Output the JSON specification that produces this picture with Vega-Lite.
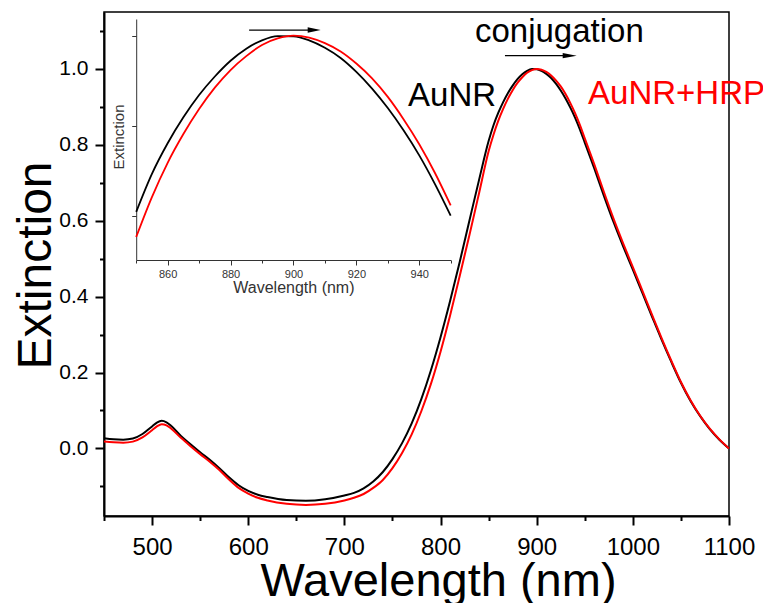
{
  "$schema": "https://vega.github.io/schema/vega-lite/v6.json",
  "width": 625,
  "height": 504,
  "autosize": "none",
  "padding": {"left": 104, "top": 12, "right": 34, "bottom": 87},
  "background": "white",
  "config": {
    "font": "Liberation Sans",
    "view": {"stroke": "#000000", "strokeWidth": 1.5}
  },
  "datasets": {
    "spectra": [
      {"wl": 450, "AuNR": 0.027, "AuNR+HRP": 0.018},
      {"wl": 460, "AuNR": 0.024, "AuNR+HRP": 0.016},
      {"wl": 470, "AuNR": 0.023, "AuNR+HRP": 0.015},
      {"wl": 480, "AuNR": 0.026, "AuNR+HRP": 0.018},
      {"wl": 490, "AuNR": 0.038, "AuNR+HRP": 0.029},
      {"wl": 500, "AuNR": 0.058, "AuNR+HRP": 0.048},
      {"wl": 505, "AuNR": 0.068, "AuNR+HRP": 0.058},
      {"wl": 510, "AuNR": 0.073, "AuNR+HRP": 0.064},
      {"wl": 515, "AuNR": 0.069, "AuNR+HRP": 0.061},
      {"wl": 520, "AuNR": 0.059, "AuNR+HRP": 0.052},
      {"wl": 530, "AuNR": 0.033, "AuNR+HRP": 0.028},
      {"wl": 540, "AuNR": 0.011, "AuNR+HRP": 0.006},
      {"wl": 550, "AuNR": -0.010, "AuNR+HRP": -0.015},
      {"wl": 560, "AuNR": -0.030, "AuNR+HRP": -0.035},
      {"wl": 570, "AuNR": -0.052, "AuNR+HRP": -0.057},
      {"wl": 580, "AuNR": -0.076, "AuNR+HRP": -0.082},
      {"wl": 590, "AuNR": -0.097, "AuNR+HRP": -0.104},
      {"wl": 600, "AuNR": -0.112, "AuNR+HRP": -0.119},
      {"wl": 610, "AuNR": -0.122, "AuNR+HRP": -0.130},
      {"wl": 620, "AuNR": -0.128, "AuNR+HRP": -0.137},
      {"wl": 640, "AuNR": -0.136, "AuNR+HRP": -0.146},
      {"wl": 660, "AuNR": -0.138, "AuNR+HRP": -0.149},
      {"wl": 680, "AuNR": -0.134, "AuNR+HRP": -0.146},
      {"wl": 700, "AuNR": -0.124, "AuNR+HRP": -0.137},
      {"wl": 710, "AuNR": -0.117, "AuNR+HRP": -0.130},
      {"wl": 720, "AuNR": -0.105, "AuNR+HRP": -0.120},
      {"wl": 730, "AuNR": -0.087, "AuNR+HRP": -0.104},
      {"wl": 740, "AuNR": -0.062, "AuNR+HRP": -0.083},
      {"wl": 750, "AuNR": -0.028, "AuNR+HRP": -0.052},
      {"wl": 760, "AuNR": 0.014, "AuNR+HRP": -0.012},
      {"wl": 770, "AuNR": 0.066, "AuNR+HRP": 0.037},
      {"wl": 780, "AuNR": 0.130, "AuNR+HRP": 0.098},
      {"wl": 790, "AuNR": 0.206, "AuNR+HRP": 0.170},
      {"wl": 800, "AuNR": 0.293, "AuNR+HRP": 0.255},
      {"wl": 810, "AuNR": 0.389, "AuNR+HRP": 0.351},
      {"wl": 820, "AuNR": 0.492, "AuNR+HRP": 0.455},
      {"wl": 830, "AuNR": 0.600, "AuNR+HRP": 0.562},
      {"wl": 840, "AuNR": 0.707, "AuNR+HRP": 0.672},
      {"wl": 850, "AuNR": 0.810, "AuNR+HRP": 0.783},
      {"wl": 855, "AuNR": 0.851, "AuNR+HRP": 0.826},
      {"wl": 860, "AuNR": 0.884, "AuNR+HRP": 0.863},
      {"wl": 865, "AuNR": 0.912, "AuNR+HRP": 0.894},
      {"wl": 870, "AuNR": 0.936, "AuNR+HRP": 0.921},
      {"wl": 875, "AuNR": 0.956, "AuNR+HRP": 0.944},
      {"wl": 880, "AuNR": 0.973, "AuNR+HRP": 0.963},
      {"wl": 885, "AuNR": 0.986, "AuNR+HRP": 0.978},
      {"wl": 890, "AuNR": 0.995, "AuNR+HRP": 0.990},
      {"wl": 895, "AuNR": 0.9995, "AuNR+HRP": 0.997},
      {"wl": 900, "AuNR": 0.9993, "AuNR+HRP": 1.0},
      {"wl": 905, "AuNR": 0.995, "AuNR+HRP": 0.998},
      {"wl": 910, "AuNR": 0.987, "AuNR+HRP": 0.992},
      {"wl": 915, "AuNR": 0.976, "AuNR+HRP": 0.983},
      {"wl": 920, "AuNR": 0.961, "AuNR+HRP": 0.970},
      {"wl": 925, "AuNR": 0.943, "AuNR+HRP": 0.954},
      {"wl": 930, "AuNR": 0.922, "AuNR+HRP": 0.934},
      {"wl": 935, "AuNR": 0.898, "AuNR+HRP": 0.910},
      {"wl": 940, "AuNR": 0.871, "AuNR+HRP": 0.883},
      {"wl": 945, "AuNR": 0.840, "AuNR+HRP": 0.852},
      {"wl": 950, "AuNR": 0.806, "AuNR+HRP": 0.817},
      {"wl": 960, "AuNR": 0.737, "AuNR+HRP": 0.748},
      {"wl": 970, "AuNR": 0.665, "AuNR+HRP": 0.675},
      {"wl": 980, "AuNR": 0.596, "AuNR+HRP": 0.605},
      {"wl": 990, "AuNR": 0.532, "AuNR+HRP": 0.540},
      {"wl": 1000, "AuNR": 0.471, "AuNR+HRP": 0.478},
      {"wl": 1010, "AuNR": 0.409, "AuNR+HRP": 0.415},
      {"wl": 1020, "AuNR": 0.347, "AuNR+HRP": 0.352},
      {"wl": 1030, "AuNR": 0.286, "AuNR+HRP": 0.290},
      {"wl": 1040, "AuNR": 0.228, "AuNR+HRP": 0.231},
      {"wl": 1050, "AuNR": 0.173, "AuNR+HRP": 0.175},
      {"wl": 1060, "AuNR": 0.125, "AuNR+HRP": 0.127},
      {"wl": 1070, "AuNR": 0.085, "AuNR+HRP": 0.086},
      {"wl": 1080, "AuNR": 0.051, "AuNR+HRP": 0.052},
      {"wl": 1090, "AuNR": 0.023, "AuNR+HRP": 0.024},
      {"wl": 1100, "AuNR": 0.0, "AuNR+HRP": 0.0}
    ],
    "labels": [
      {"text": "conjugation", "sample": "note", "wl": 835.8, "ext": 1.072},
      {"text": "AuNR", "sample": "AuNR", "wl": 766.2, "ext": 0.9025},
      {"text": "AuNR+HRP", "sample": "AuNR+HRP", "wl": 953.4, "ext": 0.9078}
    ],
    "mainArrow": [{"start": 867, "end": 935, "head": 934.3, "ext": 1.035}],
    "insetArrow": [{"start": 885.9, "end": 906, "head": 906.6, "ext": 1.0061}]
  },
  "layer": [
    {
      "layer": [
        {
          "data": {"name": "spectra"},
          "transform": [
            {"filter": "datum.wl >= 850 && datum.wl <= 950"},
            {"fold": ["AuNR", "AuNR+HRP"], "as": ["sample", "ext"]}
          ],
          "mark": {"type": "line", "strokeWidth": 1.8, "interpolate": "monotone"},
          "encoding": {
            "x": {
              "field": "wl", "type": "quantitative",
              "scale": {"domain": [850, 950], "range": [32.2, 346.7], "nice": false, "zero": false},
              "axis": {
                "orient": "bottom", "offset": -256, "grid": false,
                "values": [850, 860, 870, 880, 890, 900, 910, 920, 930, 940, 950],
                "format": "d",
                "labelExpr": "datum.value % 20 == 0 ? datum.label : ''",
                "tickSize": {"condition": {"test": "datum.value % 20 == 0", "value": 5}, "value": 3},
                "tickColor": "#333333", "tickWidth": 1,
                "domainColor": "#333333", "domainWidth": 1,
                "labelFontSize": 11, "labelColor": "#333333", "labelPadding": 3,
                "labelFlush": false, "labelOverlap": false,
                "title": "Wavelength (nm)", "titleFontSize": 16, "titleFontWeight": "normal",
                "titleColor": "#333333", "titleX": 189.4, "titleY": 32.3, "titleBaseline": "alphabetic"
              }
            },
            "y": {
              "field": "ext", "type": "quantitative",
              "scale": {"domain": [0.7582, 1.018], "range": [248, 7], "nice": false, "zero": false},
              "axis": {
                "orient": "left", "offset": -32.2, "grid": false,
                "values": [0.8056, 0.9028, 1.0],
                "labels": false,
                "tickSize": 4.5, "tickColor": "#333333", "tickWidth": 1,
                "domainColor": "#333333", "domainWidth": 1,
                "title": "Extinction", "titleFontSize": 15, "titleFontWeight": "normal",
                "titleColor": "#333333", "titleX": -12.7, "titleY": 124.5, "titleBaseline": "alphabetic"
              }
            },
            "color": {
              "field": "sample", "type": "nominal",
              "scale": {"domain": ["AuNR", "AuNR+HRP"], "range": ["#000000", "#ff0000"]},
              "legend": null
            }
          }
        },
        {
          "mark": {"type": "rect", "fillOpacity": 0, "stroke": "#555555", "strokeWidth": 1},
          "encoding": {
            "x": {"datum": 850, "type": "quantitative"},
            "x2": {"datum": 950},
            "y": {"datum": 0.7582, "type": "quantitative"},
            "y2": {"datum": 1.018}
          }
        },
        {
          "data": {"name": "insetArrow"},
          "mark": {"type": "rule", "strokeWidth": 1.2, "color": "#000000"},
          "encoding": {
            "x": {"field": "start", "type": "quantitative"},
            "x2": {"field": "end"},
            "y": {"field": "ext", "type": "quantitative"}
          }
        },
        {
          "data": {"name": "insetArrow"},
          "mark": {"type": "point", "shape": "M-1,-0.42L1,0L-1,0.42Z", "filled": true, "size": 169, "color": "#000000", "opacity": 1},
          "encoding": {
            "x": {"field": "head", "type": "quantitative"},
            "y": {"field": "ext", "type": "quantitative"}
          }
        }
      ]
    },
    {
      "layer": [
        {
          "data": {"name": "spectra"},
          "transform": [
            {"fold": ["AuNR", "AuNR+HRP"], "as": ["sample", "ext"]}
          ],
          "mark": {"type": "line", "strokeWidth": 2, "interpolate": "monotone"},
          "encoding": {
            "x": {
              "field": "wl", "type": "quantitative",
              "scale": {"domain": [450, 1100], "nice": false, "zero": false},
              "axis": {
                "orient": "bottom", "grid": false,
                "values": [450, 500, 550, 600, 650, 700, 750, 800, 850, 900, 950, 1000, 1050, 1100],
                "format": "d",
                "labelExpr": "datum.value % 100 == 0 ? datum.label : ''",
                "tickSize": {"condition": {"test": "datum.value % 100 == 0", "value": 9}, "value": 4.5},
                "tickColor": "#000000", "tickWidth": 2,
                "domainColor": "#000000", "domainWidth": 2,
                "labelFontSize": 24, "labelColor": "#000000", "labelPadding": 10,
                "labelFlush": false, "labelOverlap": false,
                "title": "Wavelength (nm)", "titleFontSize": 47, "titleFontWeight": "normal",
                "titleColor": "#000000", "titleX": 334, "titleY": 79, "titleBaseline": "alphabetic"
              }
            },
            "y": {
              "field": "ext", "type": "quantitative",
              "scale": {"domain": [-0.178, 1.15], "nice": false, "zero": false},
              "axis": {
                "orient": "left", "grid": false,
                "values": [-0.1, 0, 0.1, 0.2, 0.3, 0.4, 0.5, 0.6, 0.7, 0.8, 0.9, 1.0, 1.1],
                "labelExpr": "round(datum.value * 10) % 2 == 0 ? format(datum.value, '.1f') : ''",
                "tickSize": {"condition": {"test": "round(datum.value * 10) % 2 == 0", "value": 9}, "value": 4.5},
                "tickColor": "#000000", "tickWidth": 2,
                "domainColor": "#000000", "domainWidth": 2,
                "labelFontSize": 21, "labelColor": "#000000", "labelPadding": 7,
                "labelFlush": false, "labelOverlap": false,
                "title": "Extinction", "titleFontSize": 48, "titleFontWeight": "normal",
                "titleColor": "#000000", "titleX": -54, "titleY": 253, "titleBaseline": "alphabetic"
              }
            },
            "color": {
              "field": "sample", "type": "nominal",
              "scale": {"domain": ["AuNR", "AuNR+HRP", "note"], "range": ["#000000", "#ff0000", "#000000"]},
              "legend": null
            }
          }
        },
        {
          "data": {"name": "labels"},
          "mark": {"type": "text", "fontSize": 33, "align": "left", "baseline": "alphabetic"},
          "encoding": {
            "x": {"field": "wl", "type": "quantitative"},
            "y": {"field": "ext", "type": "quantitative"},
            "text": {"field": "text"},
            "color": {"field": "sample", "type": "nominal"}
          }
        },
        {
          "data": {"name": "mainArrow"},
          "mark": {"type": "rule", "strokeWidth": 1.2, "color": "#000000"},
          "encoding": {
            "x": {"field": "start", "type": "quantitative"},
            "x2": {"field": "end"},
            "y": {"field": "ext", "type": "quantitative"}
          }
        },
        {
          "data": {"name": "mainArrow"},
          "mark": {"type": "point", "shape": "M-1,-0.39L1,0L-1,0.39Z", "filled": true, "size": 196, "color": "#000000", "opacity": 1},
          "encoding": {
            "x": {"field": "head", "type": "quantitative"},
            "y": {"field": "ext", "type": "quantitative"}
          }
        }
      ]
    }
  ],
  "resolve": {
    "scale": {"x": "independent", "y": "independent", "color": "independent"},
    "axis": {"x": "independent", "y": "independent"}
  }
}
